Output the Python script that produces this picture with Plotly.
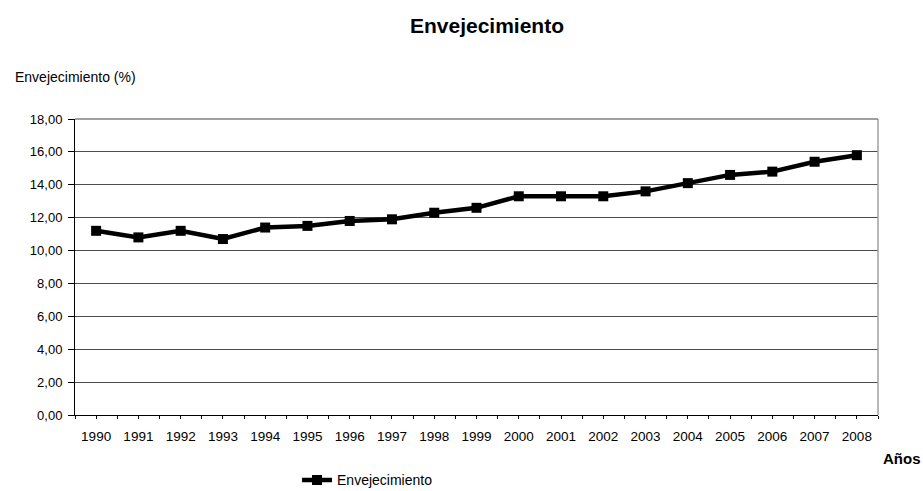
import plotly.graph_objects as go

years = [1990, 1991, 1992, 1993, 1994, 1995, 1996, 1997, 1998, 1999,
         2000, 2001, 2002, 2003, 2004, 2005, 2006, 2007, 2008]
year_labels = [str(y) for y in years]
envejecimiento = [11.2, 10.8, 11.2, 10.7, 11.4, 11.5, 11.8, 11.9, 12.3, 12.6,
                  13.3, 13.3, 13.3, 13.6, 14.1, 14.6, 14.8, 15.4, 15.8]
y_ticks = [0, 2, 4, 6, 8, 10, 12, 14, 16, 18]

FONT = "Liberation Sans, Arial, sans-serif"
x_range = [years[0] - 0.5, years[-1] + 0.5]

fig = go.Figure()
fig.add_trace(go.Scatter(
    x=years, y=envejecimiento, mode="lines+markers", name="Envejecimiento",
    line=dict(color="black", width=4.5),
    marker=dict(symbol="square", size=10, color="black"),
))

common_x = dict(range=x_range, tickmode="array", tickvals=years, showgrid=False, zeroline=False)

fig.update_layout(
    width=923, height=491,
    margin=dict(l=75, r=45, t=119, b=76, autoexpand=False),
    paper_bgcolor="white", plot_bgcolor="white",
    font=dict(family=FONT, size=13, color="black"),
    separators=",.",
    title=dict(text="<b>Envejecimiento</b>", x=0.5276, xanchor="center", y=0.947, yanchor="middle",
               font=dict(family=FONT, size=21, color="black")),
    showlegend=True,
    legend=dict(orientation="h", x=0.2765, xanchor="left", y=-0.221, yanchor="middle",
                font=dict(family=FONT, size=14, color="black"), bgcolor="rgba(0,0,0,0)"),
    xaxis=dict(**common_x, ticktext=year_labels, ticks="outside", ticklen=3,
               tickcolor="black", showline=True, linecolor="black", linewidth=1,
               tickfont=dict(size=13.5), ticklabelstandoff=6,
               minor=dict(tickmode="linear", tick0=x_range[0], dtick=1, ticks="outside",
                          ticklen=3, tickcolor="black")),
    xaxis2=dict(**common_x, overlaying="x", anchor="y", side="bottom", ticks="inside", ticklen=3,
                tickcolor="black", showticklabels=False, showline=False,
                minor=dict(tickmode="linear", tick0=x_range[0], dtick=1, ticks="inside",
                           ticklen=3, tickcolor="black")),
    yaxis=dict(range=[0, 18], tickvals=y_ticks, tickformat=".2f", ticks="outside", ticklen=6,
               tickcolor="black", showline=True, linecolor="black", linewidth=1,
               showgrid=True, gridcolor="#4d4d4d", gridwidth=1, zeroline=False,
               tickfont=dict(size=13), ticklabelstandoff=3),
)

# right and top plot-area border (gray)
fig.add_shape(type="line", xref="paper", yref="paper", x0=1, x1=1, y0=0, y1=1,
              line=dict(color="#a0a0a0", width=1.5))
fig.add_shape(type="line", xref="paper", yref="paper", x0=0, x1=1, y0=1, y1=1,
              line=dict(color="#808080", width=1.5))

fig.add_annotation(text="Envejecimiento (%)", xref="paper", yref="paper",
                   x=-0.0776, y=1.142, xanchor="left", yanchor="middle", showarrow=False,
                   font=dict(family=FONT, size=14, color="black"))
fig.add_annotation(text="<b>Años</b>", xref="paper", yref="paper",
                   x=1.0037, y=-0.1486, xanchor="left", yanchor="middle", showarrow=False,
                   font=dict(family=FONT, size=15, color="black"))

fig.write_html("out.html", config={"displayModeBar": False},
               post_script="document.body.style.margin='0';")
